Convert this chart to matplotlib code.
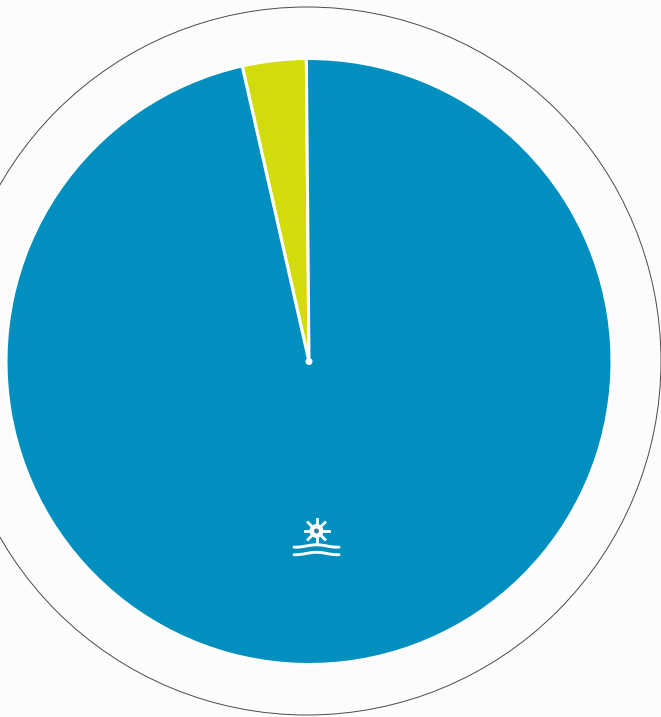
import numpy as np
import matplotlib
matplotlib.use('Agg')
import matplotlib.pyplot as plt
from matplotlib.patches import Circle

shares = [3.4, 96.6]
colors = ['#d2dc0c', '#008fbe']

W, H = 661, 717
cx, cy = 309, H - 361.5

fig = plt.figure(figsize=(W / 100, H / 100), dpi=100, facecolor='#fcfcfd')
ax = fig.add_axes([0, 0, 1, 1])
ax.set_facecolor('#fcfcfd')

# thin outer ring
ax.add_patch(Circle((307, H - 361), 354, fill=False, ec='#4a4a4a', lw=0.7))

ax.pie(shares, colors=colors, startangle=90.5, radius=303, center=(cx, cy),
       wedgeprops={'edgecolor': 'white', 'linewidth': 2.2}, frame=False)
ax.set_xlim(0, W)
ax.set_ylim(0, H)
ax.set_aspect('equal')
ax.axis('off')

# white dot where the wedges meet
ax.add_patch(Circle((cx, cy), 3.5, fc='white', ec='none', zorder=5))

# sun over waves icon
sx, sy = 316.5, H - 531
for a in np.arange(0, 180, 45):
    dx, dy = 12 * np.cos(np.radians(a)), 12 * np.sin(np.radians(a))
    ax.plot([sx - dx, sx + dx], [sy - dy, sy + dy], color='white', lw=2, zorder=5)
ax.add_patch(Circle((sx, sy), 7, fc='white', ec='none', zorder=5))
ax.add_patch(Circle((sx, sy), 2.5, fc='#3a7f9c', ec='none', zorder=6))
t = np.linspace(-1, 1, 60)
for wy in [H - 546, H - 553.5]:
    ax.plot(sx + 22.5 * t, wy + 1.2 * np.cos(t * 3.4), color='white', lw=2.1, zorder=5,
            solid_capstyle='round')

fig.savefig('out.png', dpi=100, facecolor=fig.get_facecolor())
